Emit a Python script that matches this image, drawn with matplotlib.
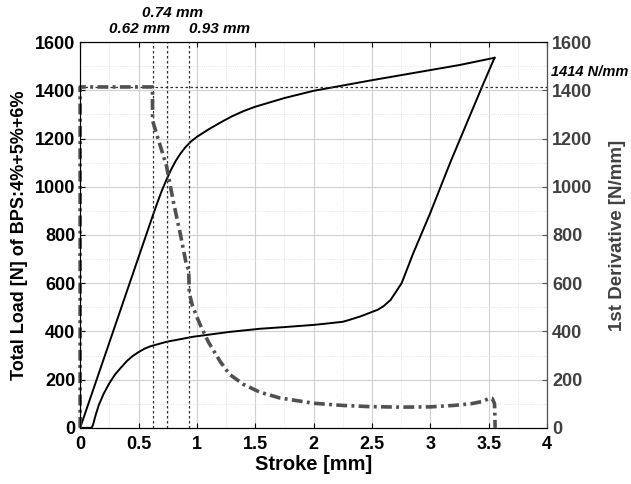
import matplotlib.pyplot as plt
from matplotlib.ticker import MultipleLocator

plt.rcParams['font.family'] = ['Liberation Sans', 'DejaVu Sans']
plt.rcParams['font.weight'] = 'bold'

# loading branch (stroke mm, load N)
load_x = [0, 0.62, 0.66, 0.70, 0.74, 0.78, 0.82, 0.86, 0.90, 0.95, 1.0, 1.1, 1.2,
          1.3, 1.4, 1.5, 1.75, 2.0, 2.25, 2.5, 2.75, 3.0, 3.25, 3.55]
load_y = [0, 877, 932, 984, 1030, 1072, 1108, 1138, 1163, 1188, 1207, 1238, 1266,
          1292, 1314, 1332, 1368, 1398, 1420, 1442, 1463, 1484, 1505, 1535]

# unloading branch
unl_x = [3.55, 3.45, 3.17, 3.0, 2.85, 2.755, 2.7, 2.66, 2.6, 2.55, 2.48, 2.4, 2.3,
         2.25, 2.1, 2.0, 1.75, 1.54, 1.28, 0.97, 0.74, 0.6, 0.55, 0.5, 0.45, 0.40,
         0.35, 0.30, 0.25, 0.20, 0.16, 0.13, 0.11, 0.10, 0.09, 0]
unl_y = [1535, 1423, 1100, 892, 720, 601, 560, 531, 505, 490, 477, 462, 447,
         440, 432, 427, 418, 411, 398, 378, 357, 338, 328, 314, 298, 277,
         250, 222, 185, 140, 95, 48, 12, 2, 0, 0]

# 1st derivative (N/mm)
der_x = [0, 0, 0.62, 0.62, 0.68, 0.74, 0.80, 0.86, 0.91, 0.93, 0.935, 0.96, 1.0,
         1.04, 1.1, 1.2, 1.28, 1.4, 1.54, 1.71, 2.0, 2.25, 2.48, 2.75, 3.0, 3.2,
         3.35, 3.45, 3.51, 3.53, 3.55, 3.555]
der_y = [0, 1414, 1414, 1275, 1180, 1086, 935, 800, 677, 655, 560, 510, 460,
         415, 355, 275, 222, 180, 148, 124, 102, 93, 88, 86, 87, 93,
         100, 110, 124, 122, 100, 0]

marks = [0.62, 0.74, 0.93]
mark_txt = ['0.62 mm', '0.74 mm', '0.93 mm']
stiff = 1414

gray = '#505050'

fig = plt.figure(figsize=(6.31, 4.84), dpi=100)
ax = fig.add_axes([0.127, 0.116, 0.74, 0.797])
ax2 = ax.twinx()

ax.set_xlim(0, 4)
ax.set_ylim(0, 1600)
ax2.set_ylim(0, 1600)
ax.xaxis.set_major_locator(MultipleLocator(0.5))
ax.xaxis.set_minor_locator(MultipleLocator(0.25))
ax.yaxis.set_major_locator(MultipleLocator(200))
ax.yaxis.set_minor_locator(MultipleLocator(100))
ax2.yaxis.set_major_locator(MultipleLocator(200))

ax.grid(True, which='major', color='#d0d0d0', lw=0.8)
ax.grid(True, which='minor', color='#dcdcdc', lw=0.6, ls=':')
ax.set_axisbelow(True)

ax.plot(load_x, load_y, color='black', lw=1.4)
ax.plot(unl_x, unl_y, color='black', lw=1.4)
ax2.plot(der_x, der_y, color=gray, lw=2.6, dashes=(3, 1.2, 0.8, 1.2), clip_on=False)

for m in marks:
    ax.axvline(m, color='#303030', lw=0.9, dashes=(2, 2))
ax.axhline(stiff, color='#303030', lw=0.9, dashes=(2, 2))

ax.text(0.51, 1625, mark_txt[0], ha='center', va='bottom', fontsize=11,
        style='italic', fontweight='bold')
ax.text(0.79, 1690, mark_txt[1], ha='center', va='bottom', fontsize=11,
        style='italic', fontweight='bold')
ax.text(1.19, 1625, mark_txt[2], ha='center', va='bottom', fontsize=11,
        style='italic', fontweight='bold')
ax.text(4.03, 1445, '1414 N/mm', ha='left', va='bottom', fontsize=10.5,
        style='italic', fontweight='bold', clip_on=False)

ax.set_xticks([0, 0.5, 1, 1.5, 2, 2.5, 3, 3.5, 4])
ax.set_xticklabels(['0', '0.5', '1', '1.5', '2', '2.5', '3', '3.5', '4'])
ax.tick_params(axis='both', which='both', direction='in', top=True, labelsize=13)
ax.tick_params(axis='both', which='minor', length=0)
ax.tick_params(axis='x', pad=6)
ax2.tick_params(axis='y', direction='in', labelsize=13, colors=gray, labelcolor='#404040')
ax2.spines['right'].set_color(gray)

ax.set_xlabel('Stroke [mm]', fontsize=14.5, fontweight='bold', labelpad=1)
ax.set_ylabel('Total Load [N] of BPS:4%+5%+6%', fontsize=13, fontweight='bold', labelpad=5)
ax2.set_ylabel('1st Derivative [N/mm]', fontsize=13.5, fontweight='bold', color='#404040', labelpad=12)

plt.savefig('out.png', dpi=100)
